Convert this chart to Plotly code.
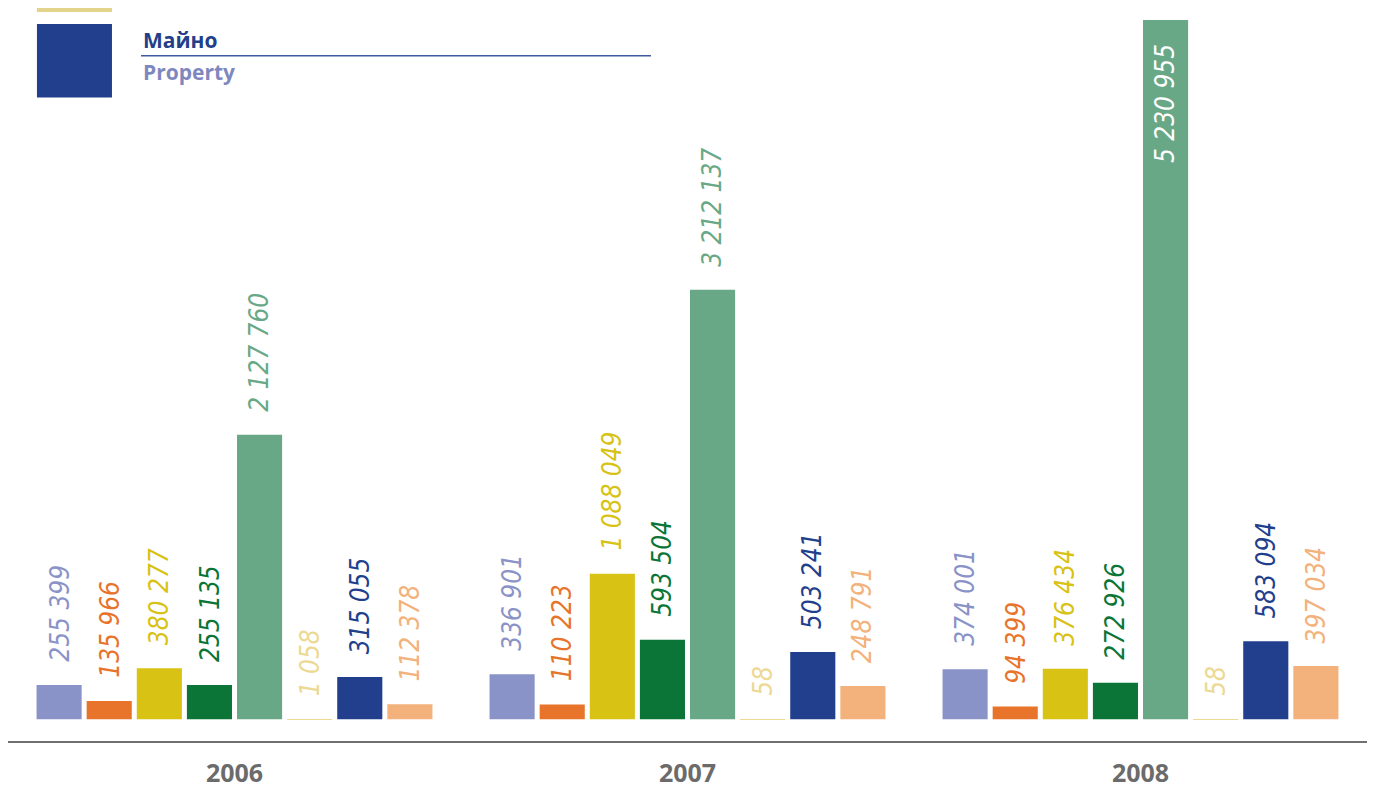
import plotly.graph_objects as go

# years on the x axis
years = ["2006", "2007", "2008"]

# eight series per year (only the "Майно / Property" one is named in the visible legend)
lavender = [255399, 336901, 374001]
orange = [135966, 110223, 94399]
yellow = [380277, 1088049, 376434]
dark_green = [255135, 593504, 272926]
sage = [2127760, 3212137, 5230955]
pale_yellow = [1058, 58, 58]
property_ = [315055, 503241, 583094]
peach = [112378, 248791, 397034]

series = [lavender, orange, yellow, dark_green, sage, pale_yellow, property_, peach]
names = ["s1", "s2", "s3", "s4", "s5", "s6", "Майно / Property", "s8"]
colors = ["#8a93c7", "#e8732a", "#d8c214", "#0b7537", "#68a886",
          "#ecd993", "#223f8d", "#f3b17b"]

bargap = 0.115
slot = (1 - bargap) / len(series)
label_font = "Liberation Sans Narrow, DejaVu Sans Condensed, sans-serif"

fig = go.Figure()
top = max(max(s) for s in series)

for k, (vals, name, col) in enumerate(zip(series, names, colors)):
    fig.add_trace(go.Bar(x=years, y=vals, name=name, marker_color=col,
                         marker_line_width=0, showlegend=False))
    for i, v in enumerate(vals):
        txt = f"{v:,}".replace(",", " ")
        xpos = i + (k - (len(series) - 1) / 2) * slot
        if v == top:
            # the tallest bar carries its value inside, in white
            fig.add_annotation(x=xpos, y=v, text=txt, textangle=-90, showarrow=False,
                               yanchor="top", yshift=-22,
                               font=dict(family=label_font, size=26, color="white", style="italic"))
        else:
            fig.add_annotation(x=xpos, y=v, text=txt, textangle=-90, showarrow=False,
                               yanchor="bottom", yshift=21,
                               font=dict(family=label_font, size=26, color=col, style="italic"))

# legend fragment in the top-left corner
fig.add_shape(type="rect", xref="paper", yref="paper", x0=0.0213, x1=0.0765,
              y0=0.9946, y1=1.0, fillcolor="#e2d48a", line_width=0, layer="above")
fig.add_shape(type="rect", xref="paper", yref="paper", x0=0.0213, x1=0.0765,
              y0=0.8779, y1=0.9783, fillcolor="#223f8d", line_width=0)
fig.add_shape(type="line", xref="paper", yref="paper", x0=0.0979, x1=0.4731,
              y0=0.9349, y1=0.9349, line=dict(color="#3f5aa0", width=1.5))
fig.add_annotation(xref="paper", yref="paper", x=0.0979, y=0.9566, text="<b>Майно</b>",
                   showarrow=False, xanchor="left", yanchor="middle",
                   font=dict(family="Open Sans", size=21, color="#243f8a"))
fig.add_annotation(xref="paper", yref="paper", x=0.0979, y=0.9132, text="<b>Property</b>",
                   showarrow=False, xanchor="left", yanchor="middle",
                   font=dict(family="Open Sans", size=21, color="#7f88be"))

# the page body keeps a small margin, so the figure is a bit smaller than the window
fig.update_layout(
    barmode="group", bargap=bargap, bargroupgap=0.1,
    width=1367, height=781,
    margin=dict(l=0, r=8, t=0, b=42),
    plot_bgcolor="white", paper_bgcolor="white",
    xaxis=dict(showline=True, linecolor="#707070", linewidth=1.5, ticks="",
               ticklabelstandoff=9, showgrid=False,
               tickfont=dict(family="Open Sans", size=25, color="#6b6b6b", weight="bold")),
    yaxis=dict(visible=False, range=[-163236, 5319937], showgrid=False, zeroline=False),
)

fig.write_html("out.html")
